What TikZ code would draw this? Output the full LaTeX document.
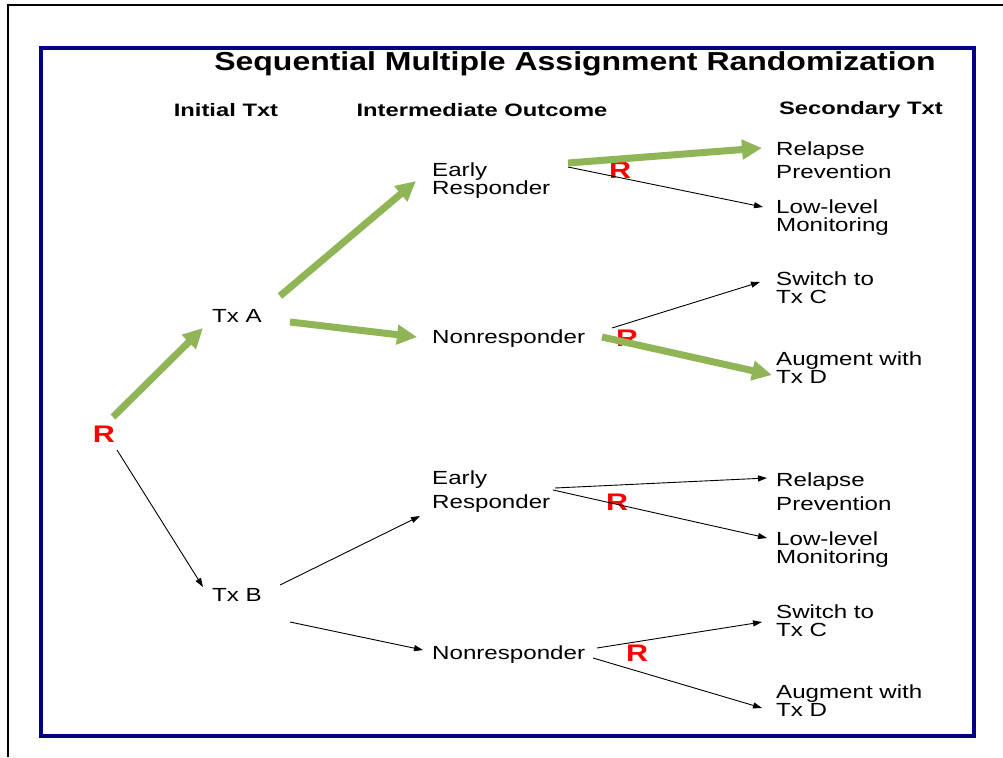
\documentclass[tikz,border=0pt]{standalone}
\usepackage{fontspec}
\usetikzlibrary{arrows.meta}
\newfontfamily\lblfont[FakeStretch=1.27]{Liberation Sans}
\newfontfamily\headfont[FakeStretch=1.32]{Liberation Sans}
\newfontfamily\ttlfont[FakeStretch=1.23]{Liberation Sans}
\definecolor{framenavy}{RGB}{0,0,128}
\definecolor{armgreen}{RGB}{143,181,86}
\definecolor{randred}{RGB}{255,0,0}
\begin{document}
\begin{tikzpicture}[x=1pt,y=-1pt,
  lbl/.style={inner sep=0pt, font=\lblfont\fontsize{19}{18}\selectfont, align=left, anchor=west},
  mid/.style={inner sep=0pt, font=\lblfont\fontsize{19}{18}\selectfont},
  head/.style={inner sep=0pt, font=\headfont\bfseries\fontsize{18}{20}\selectfont},
  randmark/.style={inner sep=0pt, text=randred, font=\lblfont\bfseries\fontsize{24}{24}\selectfont},
  greenarm/.style={draw=armgreen, line width=7pt, -{Triangle[length=20pt,width=19pt]}},
  thinarm/.style={draw=black, line width=0.9pt, -{Triangle[length=9pt,width=6pt]}}
]
\useasboundingbox (0,0) rectangle (1003,757);
\fill[white] (0,0) rectangle (1003,757);

% page edge lines and blue frame
\draw[line width=1.5pt] (8,757) -- (8,5) -- (1003,5);
\draw[framenavy, line width=4pt] (41,48) rectangle (974,736);

% title and column headings
\node[inner sep=0pt, font=\ttlfont\bfseries\fontsize{26}{28}\selectfont] (title) at (575,64)
  {Sequential Multiple Assignment Randomization};
\node[head] (hinit) at (226,110) {Initial Txt};
\node[head] (hinter) at (482,110) {Intermediate Outcome};
\node[head] (hsec) at (861,110) {Secondary Txt};

% first randomization and initial treatments
\node[randmark] (R0) at (104,434) {R};
\node[mid] (txa) at (237,316) {Tx A};
\node[mid] (txb) at (237,595) {Tx B};

% intermediate outcomes
\node[lbl] (er1) at (432,181) {Early\\Responder};
\node[lbl] (nr1) at (432,339) {Nonresponder};
\node[lbl] (er2) at (432,492) {Early\\[6pt]Responder};
\node[lbl] (nr2) at (432,655) {Nonresponder};

% secondary treatments
\node[lbl] (rp1) at (776,160) {Relapse\\[5pt]Prevention};
\node[lbl] (ll1) at (776,218) {Low-level\\Monitoring};
\node[lbl] (sw1) at (776,288) {Switch to\\Tx C};
\node[lbl] (au1) at (776,368) {Augment with\\Tx D};
\node[lbl] (rp2) at (776,492) {Relapse\\[6pt]Prevention};
\node[lbl] (ll2) at (776,550) {Low-level\\Monitoring};
\node[lbl] (sw2) at (776,621) {Switch to\\Tx C};
\node[lbl] (au2) at (776,701) {Augment with\\Tx D};

% second randomizations
\node[randmark] (r1) at (620,170) {R};
\node[randmark] (r2) at (627,338) {R};
\node[randmark] (r3) at (617,502) {R};
\node[randmark] (r4) at (637,653) {R};

% thin branches
\draw[thinarm] ([shift={(13,16)}]R0.center) -- ([shift={(-34,-8)}]txb.center);
\draw[thinarm] ([shift={(43,-10)}]txb.center) -- ([shift={(-12,24)}]er2.west);
\draw[thinarm] ([shift={(53,27)}]txb.center) -- ([shift={(-9,-5)}]nr2.west);
\draw[thinarm] ([shift={(136,-14)}]er1.west) -- ([shift={(-13,-11)}]ll1.west);
\draw[thinarm] ([shift={(180,-11)}]nr1.west) -- ([shift={(-16,-6)}]sw1.west);
\draw[thinarm] ([shift={(123,-4)}]er2.west) -- ([shift={(-9,-14)}]rp2.west);
\draw[thinarm] ([shift={(121,-2)}]er2.west) -- ([shift={(-9,-12)}]ll2.west);
\draw[thinarm] ([shift={(165,-7)}]nr2.west) -- ([shift={(-14,1)}]sw2.west);
\draw[thinarm] ([shift={(161,3)}]nr2.west) -- ([shift={(-14,7)}]au2.west);

% highlighted path
\draw[greenarm] ([shift={(9,-17)}]R0.center) -- ([shift={(-34,12)}]txa.center);
\draw[greenarm] ([shift={(43,-20)}]txa.center) -- ([shift={(-16,0)}]er1.west);
\draw[greenarm] ([shift={(53,6)}]txa.center) -- ([shift={(-15,-2)}]nr1.west);
\draw[greenarm] ([shift={(136,-18)}]er1.west) -- ([shift={(-14,-12)}]rp1.west);
\draw[greenarm] ([shift={(170,-2)}]nr1.west) -- ([shift={(-4,7)}]au1.west);
\end{tikzpicture}
\end{document}
